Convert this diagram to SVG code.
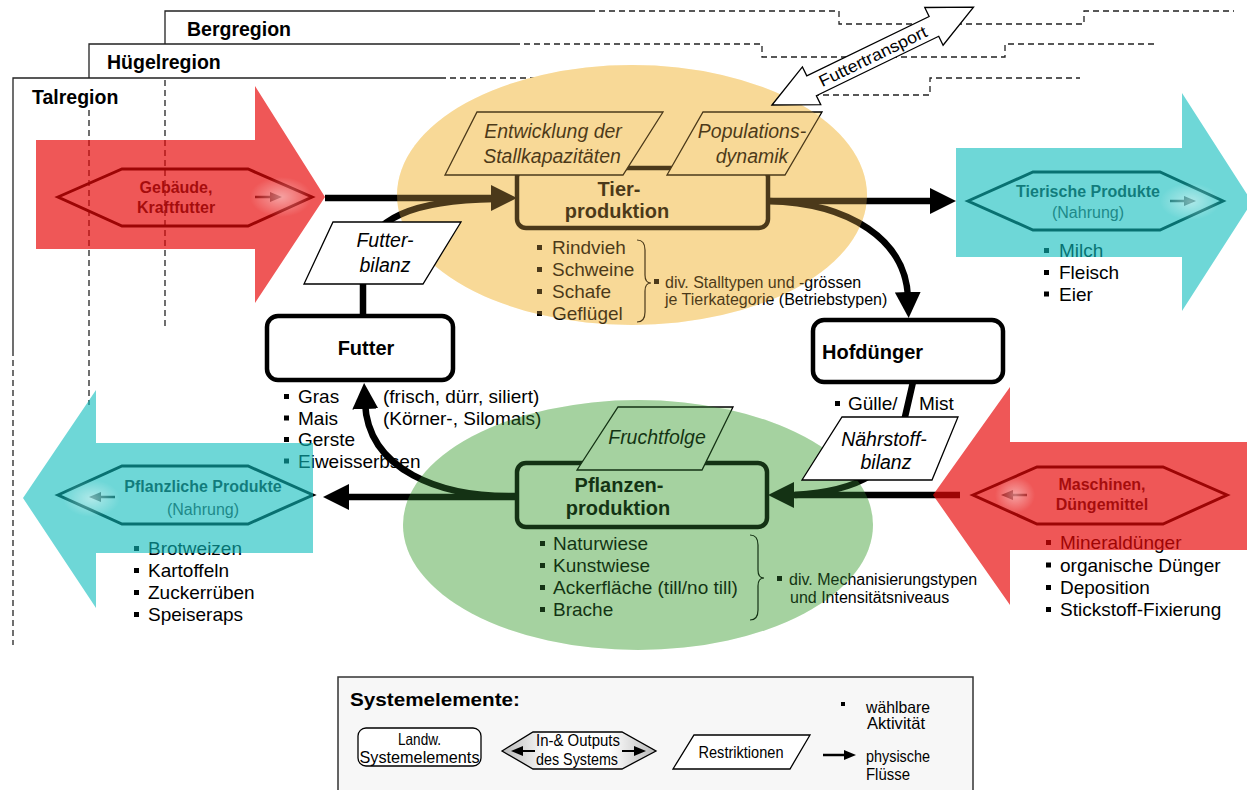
<svg xmlns="http://www.w3.org/2000/svg" xmlns:xlink="http://www.w3.org/1999/xlink" width="1247" height="790" viewBox="0 0 1247 790">
<defs>
<style>
text{font-family:"Liberation Sans",Arial,sans-serif;fill:#000}
.li{font-size:19px}
.tt{font-size:20px;font-weight:bold}
.it{font-size:19.5px;font-style:italic}
.sm{font-size:16px}
.hx{font-size:16px;font-weight:bold;fill:#1a1a1a}
.hn{font-size:16px;fill:#3a3a3a}
.rg{font-size:19.5px;font-weight:bold}
.leg{font-size:16.5px}
.mid{text-anchor:middle}
.solid{fill:none;stroke:#222;stroke-width:1.3}
.dash{fill:none;stroke:#222;stroke-width:1.3;stroke-dasharray:6 4}
.box{fill:#fff;stroke:#000;stroke-width:4.5}
.par{fill:#fff;stroke:#000;stroke-width:1.3}
.flow{fill:none;stroke:#000;stroke-width:6.5}
.hex{fill:none;stroke:#000;stroke-width:3}
.brace{fill:none;stroke:#000;stroke-width:1.2}
.sa{fill:none;stroke:#000;stroke-width:2.5}
.red{fill:#e80808;fill-opacity:0.68}
.cyan{fill:#0dbcbc;fill-opacity:0.6}
.obase{fill:#ffecb8}
.gbase{fill:#dff6d7}
.otint{fill:#e9b050;fill-opacity:0.32}
.gtint{fill:#398f39;fill-opacity:0.35}
</style>
<rect id="bu" width="5" height="5" fill="#000"/>
<marker id="ah" markerUnits="userSpaceOnUse" markerWidth="26" markerHeight="26" viewBox="0 0 26 26" refX="6" refY="13" orient="auto"><path d="M0,0 L26,13 L0,26 z" fill="#000"/></marker>
<marker id="ahs" markerUnits="userSpaceOnUse" markerWidth="12" markerHeight="10" viewBox="0 0 12 10" refX="2" refY="5" orient="auto"><path d="M0,0 L12,5 L0,10 z" fill="#000"/></marker>
<radialGradient id="glow"><stop offset="0" stop-color="#fff" stop-opacity="0.45"/><stop offset="1" stop-color="#fff" stop-opacity="0"/></radialGradient>
<linearGradient id="hexg" x1="0" x2="1" y1="0" y2="0"><stop offset="0" stop-color="#b8b8b8"/><stop offset="0.3" stop-color="#fff"/><stop offset="0.7" stop-color="#fff"/><stop offset="1" stop-color="#b8b8b8"/></linearGradient>
</defs>

<g id="regions">
  <path class="solid" d="M13,350 V78 H440"/>
  <path class="dash" d="M13,350 V645 M440,78 H686 V95 H930 V78 H1080"/>
  <path class="solid" d="M89,78 V44 H514"/>
  <path class="dash" d="M514,44 H762 V57 H1005 V44 H1156 M89,110 V405"/>
  <path class="solid" d="M165,44 V11 H589"/>
  <path class="dash" d="M589,11 H839 V24 H1084 V11 H1234 M165,80 V330"/>
  <text class="rg" x="187" y="36">Bergregion</text>
  <text class="rg" x="107" y="69">Hügelregion</text>
  <text class="rg" x="32" y="104">Talregion</text>
</g>

<g id="zones">
  <ellipse class="obase" cx="632" cy="195" rx="235" ry="130"/>
  <ellipse class="gbase" cx="638" cy="525" rx="235" ry="125"/>
</g>

<g id="tierproduktion">
  <rect class="box" x="517" y="168" width="251" height="60" rx="9" style="fill:none"/>
  <text class="tt mid" x="619" y="196">Tier-</text>
  <text class="tt mid" x="617" y="218">produktion</text>
  <use xlink:href="#bu" x="537" y="245"/><text class="li" x="552" y="254">Rindvieh</text>
  <use xlink:href="#bu" x="537" y="267"/><text class="li" x="552" y="276">Schweine</text>
  <use xlink:href="#bu" x="537" y="289"/><text class="li" x="552" y="298">Schafe</text>
  <use xlink:href="#bu" x="537" y="311"/><text class="li" x="552" y="320">Geflügel</text>
  <path class="brace" d="M637,240 Q645,240 645,250 L645,275 Q645,283 651,283 Q645,283 645,291 L645,312 Q645,322 637,322"/>
  <use xlink:href="#bu" x="654" y="279"/>
  <text class="sm" x="665" y="288">div. Stalltypen und -grössen</text>
  <text class="sm" x="665" y="305">je Tierkategorie (Betriebstypen)</text>
</g>

<g id="entwicklung">
  <polygon class="par" style="fill:#ffecb8" points="477,112 663,112 623,175 445,175"/>
  <text class="it mid" x="553" y="138">Entwicklung der</text>
  <text class="it mid" x="552" y="163">Stallkapazitäten</text>
</g>

<g id="populationsdynamik">
  <polygon class="par" style="fill:#ffecb8" points="703,112 822,112 785,175 667,175"/>
  <text class="it mid" x="752" y="138">Populations-</text>
  <text class="it mid" x="752" y="163">dynamik</text>
</g>

<g id="pflanzenproduktion">
  <rect class="box" x="517" y="463" width="250" height="64" rx="9" style="fill:none"/>
  <text class="tt mid" x="619" y="492">Pflanzen-</text>
  <text class="tt mid" x="618" y="515">produktion</text>
  <use xlink:href="#bu" x="540" y="541"/><text class="li" x="553" y="550">Naturwiese</text>
  <use xlink:href="#bu" x="540" y="563"/><text class="li" x="553" y="572">Kunstwiese</text>
  <use xlink:href="#bu" x="540" y="585"/><text class="li" x="553" y="594">Ackerfläche (till/no till)</text>
  <use xlink:href="#bu" x="540" y="607"/><text class="li" x="553" y="616">Brache</text>
  <path class="brace" d="M750,535 Q758,535 758,545 L758,570 Q758,578 764,578 Q758,578 758,586 L758,610 Q758,620 750,620"/>
  <use xlink:href="#bu" x="777" y="576"/>
  <text class="sm" x="789" y="585">div. Mechanisierungstypen</text>
  <text class="sm" x="790" y="603">und Intensitätsniveaus</text>
</g>

<g id="fruchtfolge">
  <polygon class="par" style="fill:#dff6d7" points="618,407 733,407 702,470 577,470"/>
  <text class="it mid" x="657" y="444">Fruchtfolge</text>
</g>

<g id="futter">
  <rect class="box" x="267" y="316" width="186" height="64" rx="11"/>
  <text class="tt mid" x="366" y="355">Futter</text>
  <use xlink:href="#bu" x="284" y="394"/><text class="li" x="298" y="403">Gras</text>
  <text class="li" x="383" y="403">(frisch, dürr, siliert)</text>
  <use xlink:href="#bu" x="284" y="415.5"/><text class="li" x="298" y="424.5">Mais</text>
  <text class="li" x="383" y="424.5">(Körner-, Silomais)</text>
  <use xlink:href="#bu" x="284" y="437"/><text class="li" x="298" y="446">Gerste</text>
  <use xlink:href="#bu" x="284" y="458.5"/><text class="li" x="298" y="467.5">Eiweisserbsen</text>
</g>

<g id="hofduenger">
  <rect class="box" x="813" y="320" width="190" height="62" rx="11"/>
  <text class="tt" x="822" y="359">Hofdünger</text>
  <use xlink:href="#bu" x="835" y="401"/>
  <text class="li" x="848" y="410">Gülle/</text>
  <text class="li" x="919" y="410">Mist</text>
</g>

<g id="connectors">
  <path class="flow" d="M325,198 H497" marker-end="url(#ah)"/>
  <path class="flow" d="M768,201 H936" marker-end="url(#ah)"/>
  <path class="flow" d="M768,201 C850,203 906,240 908,298" marker-end="url(#ah)"/>
  <path class="flow" d="M363,318 L363,270 C363,215 420,200 495,199"/>
  <path class="flow" d="M517,497 H343" marker-end="url(#ah)"/>
  <path class="flow" d="M517,496 C440,498 368,470 365,403" marker-end="url(#ah)"/>
  <path class="flow" d="M913,382 L902,430 C895,470 860,491 795,495"/>
  <path class="flow" d="M960,495 H788" marker-end="url(#ah)"/>
</g>

<g id="zone-tints">
  <ellipse class="otint" cx="632" cy="195" rx="235" ry="130"/>
  <ellipse class="gtint" cx="638" cy="525" rx="235" ry="125"/>
</g>

<g id="in-gebaeude">
  <polygon class="hex" points="58,197 122,169 248,169 312,197 248,226 122,226"/>
  <text class="hx mid" x="176" y="193">Gebäude,</text>
  <text class="hx mid" x="176" y="213">Kraftfutter</text>
  <path class="sa" d="M255,197 H272" marker-end="url(#ahs)"/>
  <polygon class="red" points="36,140 255,140 255,86 325,197 255,303 255,249 36,249"/>
  <rect x="250" y="177" width="62" height="40" fill="url(#glow)"/>
</g>

<g id="out-tierisch">
  <polygon class="hex" points="968,201 1033,172 1160,172 1223,201 1160,230 1033,230"/>
  <text class="hx mid" x="1088" y="197">Tierische Produkte</text>
  <text class="hn mid" x="1088" y="218">(Nahrung)</text>
  <path class="sa" d="M1170,201 H1186" marker-end="url(#ahs)"/>
  <use xlink:href="#bu" x="1044" y="248"/><text class="li" x="1059" y="257">Milch</text>
  <use xlink:href="#bu" x="1044" y="270"/><text class="li" x="1059" y="279">Fleisch</text>
  <use xlink:href="#bu" x="1044" y="291.5"/><text class="li" x="1059" y="300.5">Eier</text>
  <polygon class="cyan" points="956,148 1182,148 1182,93 1252,202 1182,311 1182,257 956,257"/>
  <rect x="1160" y="183" width="60" height="37" fill="url(#glow)"/>
</g>

<g id="out-pflanzlich">
  <polygon class="hex" points="58,495 122,466 248,466 313,495 248,524 122,524"/>
  <text class="hx mid" x="203" y="492">Pflanzliche Produkte</text>
  <text class="hn mid" x="203" y="515">(Nahrung)</text>
  <path class="sa" d="M115,497 H99" marker-end="url(#ahs)"/>
  <use xlink:href="#bu" x="134" y="546"/><text class="li" x="148" y="555">Brotweizen</text>
  <use xlink:href="#bu" x="134" y="568"/><text class="li" x="148" y="577">Kartoffeln</text>
  <use xlink:href="#bu" x="134" y="590"/><text class="li" x="148" y="599">Zuckerrüben</text>
  <use xlink:href="#bu" x="134" y="612"/><text class="li" x="148" y="621">Speiseraps</text>
  <polygon class="cyan" points="23,498 96,390 96,443 313,443 313,553 96,553 96,608"/>
  <rect x="63" y="480" width="57" height="37" fill="url(#glow)"/>
</g>

<g id="in-maschinen">
  <polygon class="hex" points="973,495 1037,467 1163,467 1227,495 1163,524 1037,524"/>
  <text class="hx mid" x="1102" y="490">Maschinen,</text>
  <text class="hx mid" x="1102" y="510">Düngemittel</text>
  <path class="sa" d="M1027,495 H1011" marker-end="url(#ahs)"/>
  <use xlink:href="#bu" x="1046" y="540"/><text class="li" x="1060" y="549">Mineraldünger</text>
  <use xlink:href="#bu" x="1046" y="562.5"/><text class="li" x="1060" y="571.5">organische Dünger</text>
  <use xlink:href="#bu" x="1046" y="585"/><text class="li" x="1060" y="594">Deposition</text>
  <use xlink:href="#bu" x="1046" y="607"/><text class="li" x="1060" y="616">Stickstoff-Fixierung</text>
  <polygon class="red" points="933,495 1010,387 1010,442 1250,442 1250,550 1010,550 1010,605"/>
  <rect x="995" y="477" width="40" height="36" fill="url(#glow)"/>
</g>

<g id="futterbilanz">
  <polygon class="par" points="333,222 461,222 423,284 304,284"/>
  <text class="it mid" x="385" y="247">Futter-</text>
  <text class="it mid" x="385" y="272">bilanz</text>
</g>

<g id="naehrstoffbilanz">
  <polygon class="par" points="842,417 958,417 932,480 802,480"/>
  <text class="it mid" x="884" y="446">Nährstoff-</text>
  <text class="it mid" x="886" y="469">bilanz</text>
</g>

<g id="futtertransport" transform="translate(772,105) rotate(-25.9)">
  <polygon class="par" points="0,0 44,-21 44,-11 180,-11 180,-21 224,0 180,21 180,11 44,11 44,21"/>
  <text class="mid" x="112" y="6" style="font-size:16.5px" textLength="118" lengthAdjust="spacingAndGlyphs">Futtertransport</text>
</g>

<g id="legend">
  <rect x="338" y="677" width="635" height="120" fill="#f7f7f7" stroke="#333" stroke-width="1.5"/>
  <text x="350" y="706" style="font-size:19px;font-weight:bold" textLength="170" lengthAdjust="spacingAndGlyphs">Systemelemente:</text>
  <rect x="358" y="728" width="123" height="38" rx="8" fill="#fff" stroke="#000" stroke-width="1.3"/>
  <text class="leg mid" x="419.5" y="745" textLength="43" lengthAdjust="spacingAndGlyphs">Landw.</text>
  <text class="leg mid" x="419.5" y="763" textLength="120" lengthAdjust="spacingAndGlyphs">Systemelements</text>
  <polygon points="502,751 533,732 622,732 656,751 622,769 533,769" fill="url(#hexg)" stroke="#000" stroke-width="1.3"/>
  <path d="M535,751 H521" stroke="#000" stroke-width="2" marker-end="url(#ahs)"/>
  <path d="M622,751 H636" stroke="#000" stroke-width="2" marker-end="url(#ahs)"/>
  <text class="leg mid" x="578" y="746" textLength="84" lengthAdjust="spacingAndGlyphs">In-&amp; Outputs</text>
  <text class="leg mid" x="577" y="765" textLength="82" lengthAdjust="spacingAndGlyphs">des Systems</text>
  <polygon points="694,735 810,735 790,769 673,769" fill="#fff" stroke="#000" stroke-width="1.3"/>
  <text class="leg mid" x="741" y="758" textLength="85" lengthAdjust="spacingAndGlyphs">Restriktionen</text>
  <rect x="841" y="702" width="4" height="4" fill="#000"/>
  <text class="leg" x="866" y="713" textLength="64" lengthAdjust="spacingAndGlyphs">wählbare</text>
  <text class="leg" x="867" y="729" textLength="58" lengthAdjust="spacingAndGlyphs">Aktivität</text>
  <path d="M823,755 H846" stroke="#000" stroke-width="2.5" marker-end="url(#ahs)"/>
  <text class="leg" x="866" y="762" textLength="64" lengthAdjust="spacingAndGlyphs">physische</text>
  <text class="leg" x="866" y="780" textLength="44" lengthAdjust="spacingAndGlyphs">Flüsse</text>
</g>
</svg>
